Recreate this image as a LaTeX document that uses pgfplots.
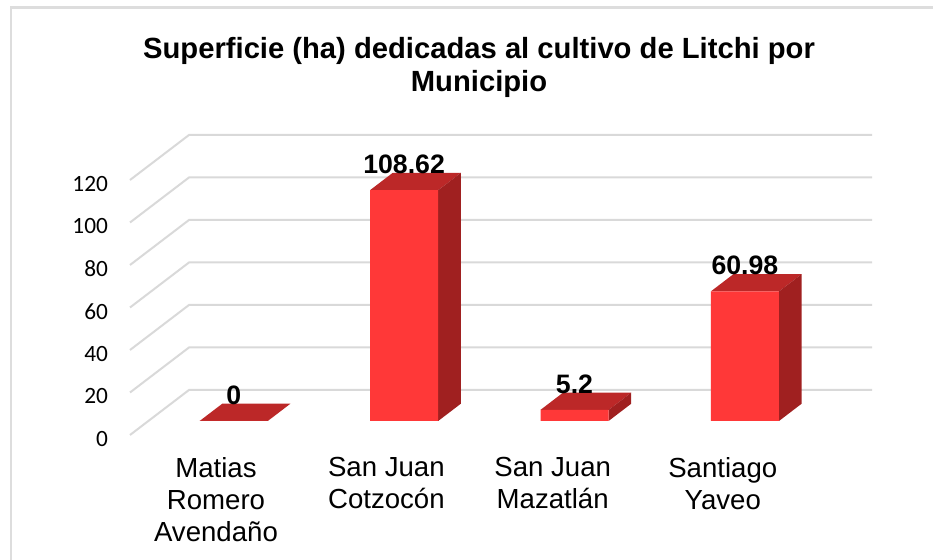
\documentclass[border=0pt]{standalone}
\usepackage{pgfplots}
\pgfplotsset{compat=1.18}
\usepackage{fontspec}
\setmainfont{Liberation Sans}
\newfontfamily\tickfont{Carlito}
\definecolor{gridc}{HTML}{D9D9D9}
\definecolor{framec}{HTML}{DDDDDD}
\definecolor{frontc}{HTML}{FF3838}
\definecolor{topc}{HTML}{BC2828}
\definecolor{sidec}{HTML}{A02020}
\begin{document}
\begin{tikzpicture}
\path[use as bounding box] (0,0) rectangle (699.75pt,420pt);
\draw[framec,line width=1.7pt] (8.2pt,0pt) -- (8.2pt,414.3pt) -- (699.75pt,414.3pt);
% back wall: real value axis
\begin{axis}[
  scale only axis, anchor=south west, at={(97.5pt,93.75pt)},
  width=556.5pt, height=225pt,
  xmin=-0.6086, xmax=3.7459, ymin=0, ymax=141.18,
  clip=false, axis line style={draw=none}, major tick length=0pt,
  xtick=\empty, ytick={0,20,40,60,80,100,120},
  /pgf/number format/assume math mode=true,
  yticklabel style={font=\fontsize{17.5}{20}\selectfont\tickfont, anchor=east, xshift=-13pt, yshift=-3pt, text=black},
  title={Superficie (ha) dedicadas al cultivo de Litchi por\\Municipio},
  title style={at={(rel axis cs:0.4704,1.198)}, anchor=center, align=center, font=\fontsize{21.9}{24.75}\selectfont\bfseries},
]
\foreach \v/\w in {0/21.18,20/41.18,40/61.18,60/81.18,80/101.18,100/121.18,120/141.18}{
  \edef\tmp{\noexpand\addplot[gridc, line width=1.5pt, no marks, forget plot] coordinates {(-0.6086,\v) (-0.2624,\w) (3.7459,\w)};}
  \tmp
}
\end{axis}
% bars
\begin{axis}[
  scale only axis, anchor=south west, at={(97.5pt,104.25pt)},
  width=556.5pt, height=214.5pt,
  xmin=-0.6086, xmax=3.7459, ymin=0, ymax=134.59,
  clip=false, axis line style={draw=none}, major tick length=0pt,
  ytick=\empty,
  xtick={-0.104,0.896,1.872,2.87},
  xticklabels={Matias\\Romero\\Avendaño, San Juan\\Cotzocón, San Juan\\Mazatlán, Santiago\\Yaveo},
  xticklabel style={font=\fontsize{20.7}{24}\selectfont, align=center, anchor=north, yshift=-23.5pt, text=black},
]
% top faces
\addplot[fill=topc, draw=none, no marks, forget plot] coordinates {(-0.2,0) (0.2,0) (0.333,8.14) (-0.067,8.14)} --cycle;
\addplot[fill=topc, draw=none, no marks, forget plot] coordinates {(0.8,108.62) (1.2,108.62) (1.333,116.76) (0.933,116.76)} --cycle;
\addplot[fill=topc, draw=none, no marks, forget plot] coordinates {(1.8,5.2) (2.2,5.2) (2.333,13.34) (1.933,13.34)} --cycle;
\addplot[fill=topc, draw=none, no marks, forget plot] coordinates {(2.8,60.98) (3.2,60.98) (3.333,69.12) (2.933,69.12)} --cycle;
% side faces
\addplot[fill=sidec, draw=none, no marks, forget plot] coordinates {(1.2,0) (1.333,8.14) (1.333,116.76) (1.2,108.62)} --cycle;
\addplot[fill=sidec, draw=none, no marks, forget plot] coordinates {(2.2,0) (2.333,8.14) (2.333,13.34) (2.2,5.2)} --cycle;
\addplot[fill=sidec, draw=none, no marks, forget plot] coordinates {(3.2,0) (3.333,8.14) (3.333,69.12) (3.2,60.98)} --cycle;
% front faces with value labels
\addplot[ybar, bar width=51pt, bar shift=0pt, fill=frontc, draw=none,
  nodes near coords,
  nodes near coords style={font=\fontsize{20}{22}\selectfont\bfseries, text=black, anchor=center, yshift=19.5pt, /pgf/number format/assume math mode=true},
] coordinates {(0,0) (1,108.62) (2,5.2) (3,60.98)};
\end{axis}
\end{tikzpicture}
\end{document}
